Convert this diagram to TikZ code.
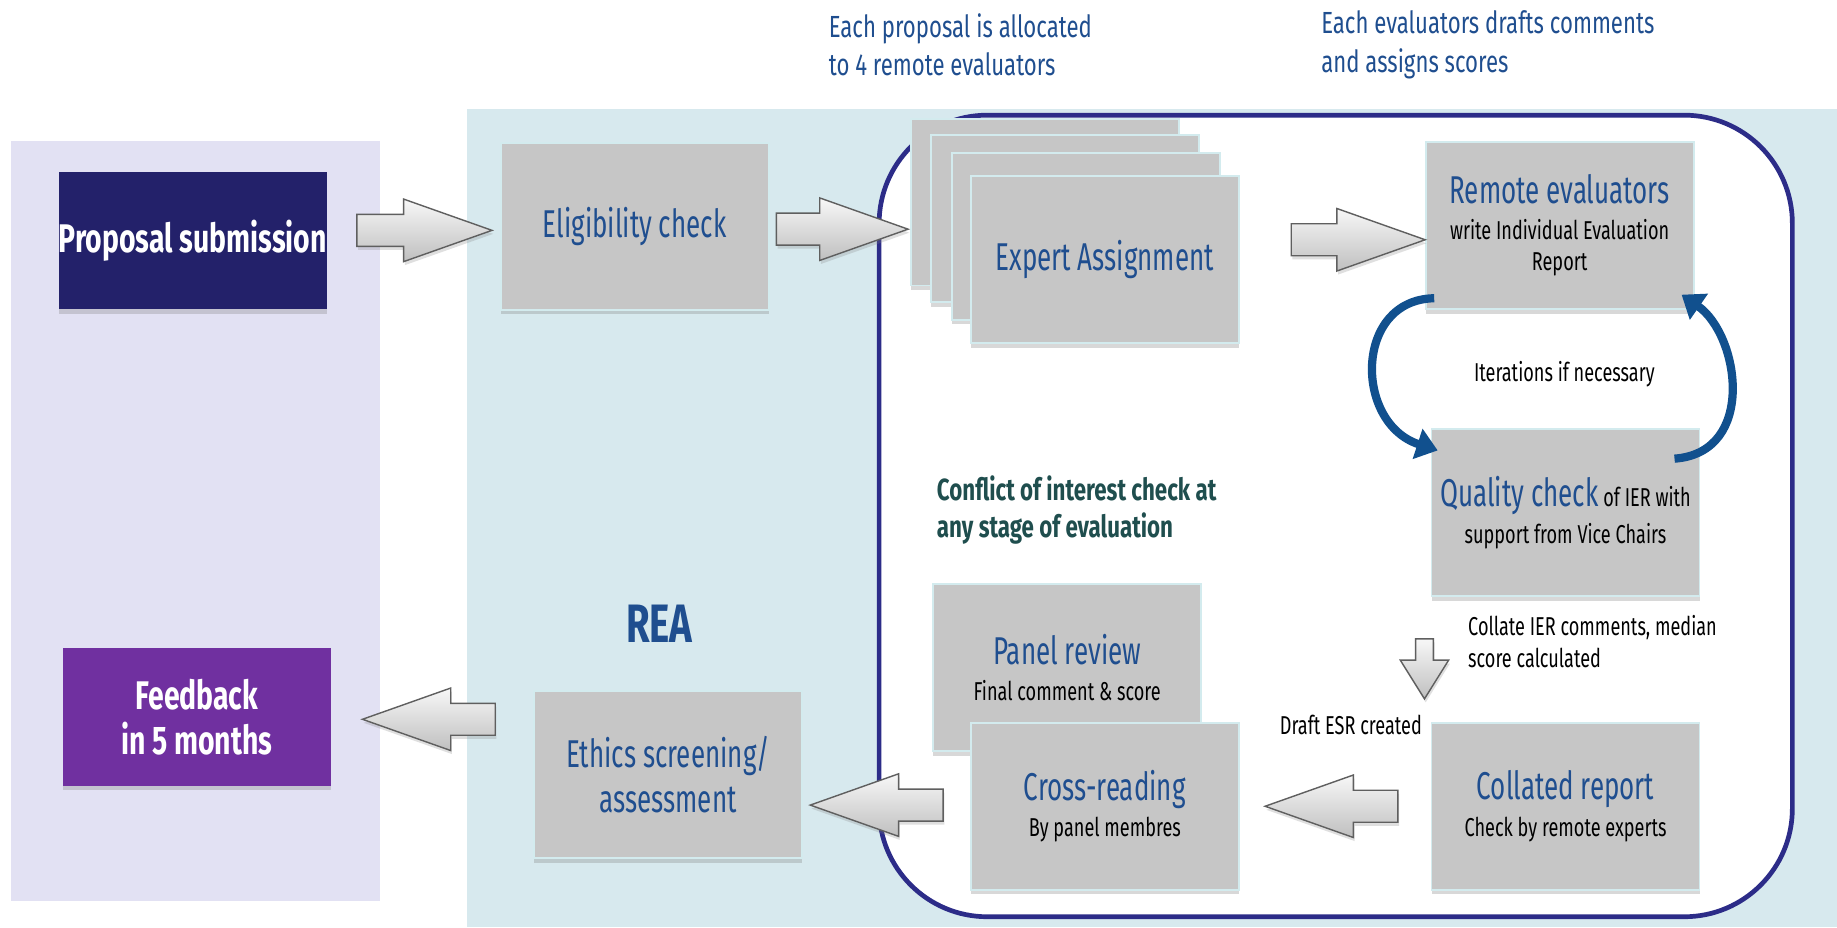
\documentclass[tikz,border=0pt]{standalone}
\usepackage{fontspec}
\newfontfamily\ftitle{Fira Sans}[FakeStretch=0.67]
\newfontfamily\fsub{Fira Sans}[FakeStretch=0.70]
\newfontfamily\fnote{Fira Sans}[FakeStretch=0.725]
\newfontfamily\fbold{Fira Sans}[FakeStretch=0.71]
\newfontfamily\fboldc{Fira Sans}[FakeStretch=0.73]
\usetikzlibrary{shapes.arrows,shadows,arrows.meta,calc}
\definecolor{lav}{HTML}{E2E1F3}
\definecolor{lblue}{HTML}{D7E9EE}
\definecolor{navy}{HTML}{2C2C88}
\definecolor{propfill}{HTML}{23216A}
\definecolor{feedfill}{HTML}{7030A0}
\definecolor{boxgray}{HTML}{C6C6C6}
\definecolor{boxedge}{HTML}{D3EBEE}
\definecolor{tblue}{HTML}{1F4E8F}
\definecolor{tteal}{HTML}{1F4E4E}
\definecolor{arrblue}{HTML}{11508E}
\definecolor{arredge}{HTML}{5F5F5F}
\newcommand{\titlefs}{\ftitle\fontsize{33}{36}\selectfont\color{tblue}}
\newcommand{\subfs}{\fsub\fontsize{22}{27}\selectfont}
\begin{document}
\begin{tikzpicture}[x=1pt,y=-1pt,
  procbox/.style={rectangle, fill=boxgray, draw=boxedge, line width=1.5pt,
    minimum width=228pt, minimum height=142pt, inner sep=0pt, align=center,
    drop shadow={shadow xshift=0pt, shadow yshift=-4pt, opacity=0.3},
    font=\subfs, text=black},
  colbox/.style={rectangle, minimum width=228pt, minimum height=117pt,
    inner sep=0pt, align=center, text=white,
    drop shadow={shadow xshift=0pt, shadow yshift=-4pt, opacity=0.3}},
  blockarr/.style={single arrow, draw=arredge, line width=1.2pt,
    top color=gray!6, bottom color=gray!50, inner sep=0pt, inner ysep=13pt,
    single arrow head extend=13pt, single arrow tip angle=39,
    minimum height=114pt,
    drop shadow={shadow xshift=1pt, shadow yshift=-3pt, opacity=0.25}},
  iterarr/.style={draw=arrblue, line width=7pt,
    -{Triangle[length=18pt,width=26pt]}},
  note/.style={font=\subfs, text=black, inner sep=0pt, align=left}
]
\useasboundingbox (0,0) rectangle (1563,789);
% panels
\fill[lav] (9,120) rectangle (323,767);
\fill[lblue] (397,93) rectangle (1563,789);
\draw[navy, line width=4pt, fill=white, rounded corners=92pt] (748,98) rectangle (1525,780);

% top notes
\node[note, anchor=west, text=tblue, font=\fnote\fontsize{26}{33}\selectfont] (n1) at (705,38)
  {Each proposal is allocated\\to 4 remote evaluators};
\node[note, anchor=west, text=tblue, font=\fnote\fontsize{26}{33}\selectfont] (n2) at (1124,38)
  {Each evaluators drafts comments\\and assigns scores};

% left column
\node[colbox, fill=propfill, font=\fbold\bfseries\fontsize{34}{38}\selectfont] (prop) at (164,204.5) {Proposal submission};
\node[colbox, fill=feedfill, font=\fbold\bfseries\fontsize{34}{38}\selectfont] (feed) at (167.5,610) {Feedback\\in 5 months};

% REA boxes
\node[procbox] (elig) at (540,192.5) {\titlefs Eligibility check};
\node[procbox, font=\ftitle\fontsize{33}{39}\selectfont, text=tblue] (ethics) at (568.5,659) {Ethics screening/\\assessment};
\node[font=\fbold\bfseries\fontsize{46}{50}\selectfont, text=tblue] (rea) at (561,531) {REA};

% expert stack
\node[procbox] (ex1) at (889,172) {};
\node[procbox] (ex2) at (906,186) {};
\node[procbox] (ex3) at (924,201) {};
\node[procbox] (ex) at (940,221) {\raisebox{-3pt}{\titlefs Expert Assignment}};

\node[procbox] (re) at (1327,192) {{\titlefs Remote evaluators}\\[3pt]write Individual Evaluation\\Report};
\node[procbox] (qc) at (1332,436) {{\titlefs Quality check} of IER with\\[4pt]support from Vice Chairs};
\node[procbox] (cr) at (1332,686) {{\titlefs Collated report}\\[4pt]Check by remote experts};
\node[procbox] (pr) at (908,568) {{\titlefs Panel review}\\[4pt]Final comment \& score};
\node[procbox] (cx) at (940,686) {{\titlefs Cross-reading}\\[4pt]By panel membres};

% notes inside
\node[note, anchor=center] (it) at (1331,318) {Iterations if necessary};
\node[note, anchor=west] (coll) at (1249,546) {Collate IER comments, median\\score calculated};
\node[note, anchor=east] (draft) at (1210,617) {Draft ESR created};
\node[note, anchor=west, text=tteal, font=\fboldc\bfseries\fontsize{26}{31}\selectfont] (coi) at (797,434)
  {Conflict of interest check at\\any stage of evaluation};

% block arrows
\node[blockarr, anchor=tail, minimum height=115pt] (a1) at (303,196) {};
\node[blockarr, anchor=tail, minimum height=112pt] (a2) at (660,195) {};
\node[blockarr, anchor=tail, minimum height=114pt] (a3) at (1098,204) {};
\node[blockarr, anchor=tail, shape border rotate=180, minimum height=113pt] (a4) at (1190,686) {};
\node[blockarr, anchor=tail, shape border rotate=180, minimum height=113pt] (a5) at (803,685) {};
\node[blockarr, anchor=tail, shape border rotate=180, minimum height=113pt] (a6) at (422,612) {};
\node[blockarr, anchor=tail, shape border rotate=270, minimum height=51pt, inner sep=7pt,
  single arrow head extend=13pt, single arrow tip angle=64] (a7) at (1212,543) {};

% iteration arrows
\draw[iterarr] ([xshift=8pt,yshift=10pt]re.south west) .. controls (1152,255) and (1152,360) .. ([xshift=6pt,yshift=-19pt]qc.north west);
\draw[iterarr] ([xshift=-22pt,yshift=-26pt]qc.north east) .. controls (1495,385) and (1480,285) .. ([xshift=-11pt,yshift=13pt]re.south east);
\end{tikzpicture}
\end{document}
